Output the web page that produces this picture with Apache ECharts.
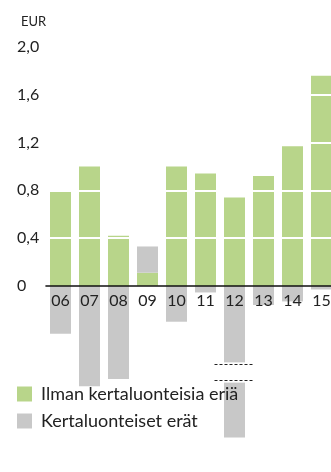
<!DOCTYPE html>
<html>
<head>
<meta charset="utf-8">
<script src="https://cdn.jsdelivr.net/npm/echarts@6/dist/echarts.min.js"></script>
<style>
  html, body { margin: 0; padding: 0; background: #fff; }
  #chart { width: 331px; height: 472px; }
</style>
</head>
<body>
<div id="chart"></div>
<script>
// EUR per share, 2006-2015
const years = ['06', '07', '08', '09', '10', '11', '12', '13', '14', '15']
const regular = [0.79, 1.0, 0.42, 0.11, 1.0, 0.94, 0.74, 0.92, 1.17, 1.76]
const oneOff = [-0.4, -0.84, -0.78, 0.22, -0.3, -0.055, -1.27, -0.16, -0.13, -0.03]
const gridValues = [0.4, 0.8, 1.2, 1.6]
// the 2012 bar is cut between these two values
const breakRange = [-0.64, -0.81]
const breakLines = [-0.655, -0.79]

const seriesNames = ['Ilman kertaluonteisia eriä', 'Kertaluonteiset erät']
const green = '#b8d58a'
const grey = '#c8c8c8'
const font = 'Lato, "Noto Sans", sans-serif'
const gridBottom = -5

const chart = echarts.init(document.getElementById('chart'))

chart.setOption({
  animation: false,
  backgroundColor: '#fff',
  title: {
    text: 'EUR',
    left: 16,
    top: 10,
    textStyle: { fontFamily: font, fontSize: 13, fontWeight: 'normal', color: '#222' },
  },
  legend: {
    orient: 'vertical',
    left: 12,
    top: 380,
    itemWidth: 15,
    itemHeight: 15,
    itemGap: 9,
    icon: 'rect',
    textStyle: { fontFamily: font, fontSize: 18, color: '#222', padding: [0, 0, 0, 4] },
    data: seriesNames,
  },
  grid: { left: 46, right: -5, top: 47, bottom: gridBottom, outerBoundsMode: 'none', containLabel: false },
  xAxis: {
    type: 'category',
    position: 'bottom',
    data: years,
    axisLine: { onZero: false, lineStyle: { color: '#111', width: 1.6 } },
    axisTick: { show: false },
    axisLabel: { fontFamily: font, fontSize: 16, color: '#222', margin: 7 },
    z: 5,
  },
  yAxis: {
    type: 'value',
    min: -1.6,
    max: 2.0,
    interval: 0.4,
    axisLine: { show: false },
    axisTick: { show: false },
    splitLine: { show: false },
    axisLabel: {
      fontFamily: font,
      fontSize: 16,
      color: '#222',
      align: 'left',
      margin: 29,
      formatter: (v) => {
        if (v < -1e-9) return ''
        if (Math.abs(v) < 1e-9) return '0'
        return v.toFixed(1).replace('.', ',')
      },
    },
  },
  series: [
    {
      name: seriesNames[0],
      type: 'bar',
      stack: 'eps',
      barWidth: 21,
      data: regular,
      itemStyle: { color: green },
    },
    {
      name: seriesNames[1],
      type: 'bar',
      stack: 'eps',
      barWidth: 21,
      data: oneOff,
      itemStyle: { color: grey },
      markLine: {
        silent: true,
        symbol: 'none',
        label: { show: false },
        lineStyle: { color: '#fff', width: 2, type: 'solid' },
        z: 10,
        data: gridValues.map((v) => ({ yAxis: v })),
      },
    },
  ],
})

// move the category axis up to the zero line
const zeroY = chart.convertToPixel({ yAxisIndex: 0 }, 0)
const bottomY = chart.getHeight() - gridBottom
chart.setOption({ xAxis: { offset: zeroY - bottomY } })

// axis break on the 2012 bar
const idx = years.indexOf('12')
const p1 = chart.convertToPixel({ seriesIndex: 1 }, [idx, breakRange[0]])
const p2 = chart.convertToPixel({ seriesIndex: 1 }, [idx, breakRange[1]])
const l1 = chart.convertToPixel({ seriesIndex: 1 }, [idx, breakLines[0]])
const l2 = chart.convertToPixel({ seriesIndex: 1 }, [idx, breakLines[1]])
const half = 20
const dash = { stroke: '#222', lineWidth: 1, lineDash: [3, 2] }
chart.setOption({
  graphic: [
    { type: 'rect', z: 50, shape: { x: p1[0] - 12, y: p1[1], width: 24, height: p2[1] - p1[1] }, style: { fill: '#fff' } },
    { type: 'line', z: 51, shape: { x1: l1[0] - half, y1: Math.round(l1[1]) + 0.5, x2: l1[0] + half, y2: Math.round(l1[1]) + 0.5 }, style: dash },
    { type: 'line', z: 51, shape: { x1: l2[0] - half, y1: Math.round(l2[1]) + 0.5, x2: l2[0] + half, y2: Math.round(l2[1]) + 0.5 }, style: dash },
  ],
})
</script>
</body>
</html>
